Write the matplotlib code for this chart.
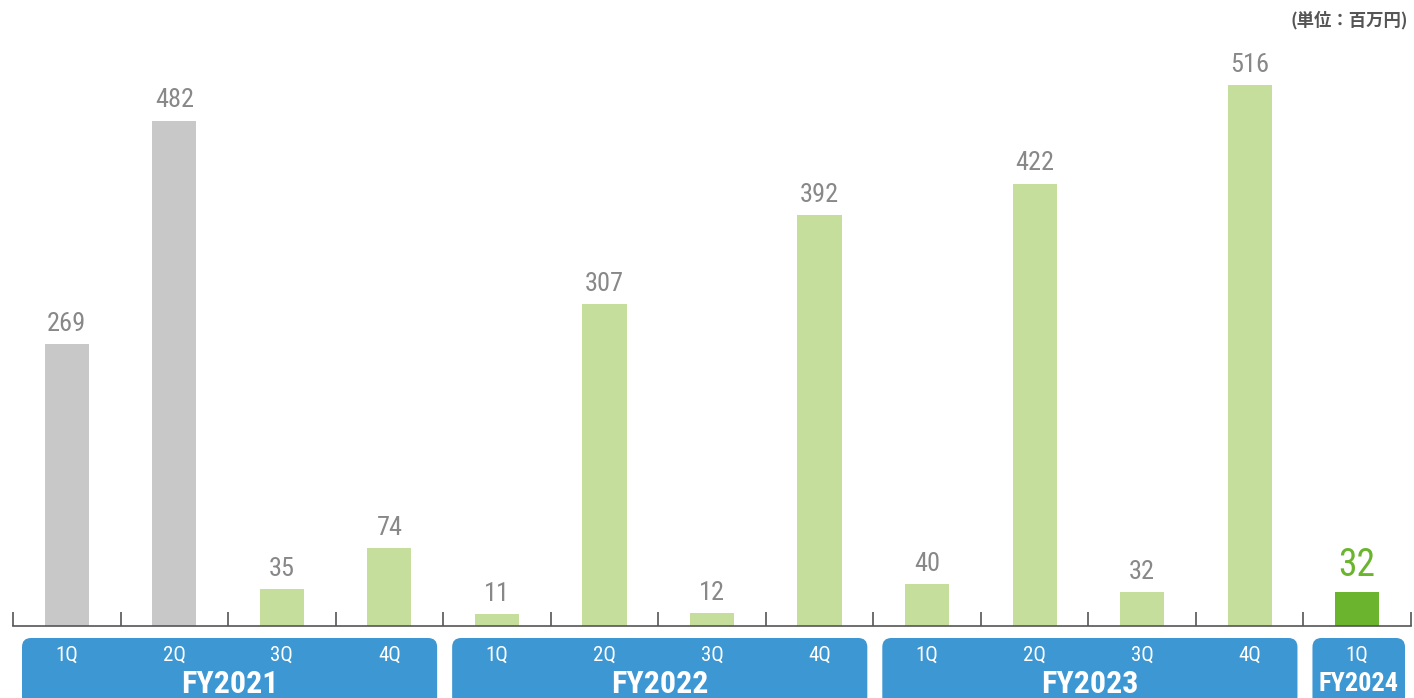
import matplotlib
matplotlib.use('Agg')
import matplotlib.pyplot as plt
from matplotlib import font_manager
from matplotlib.patches import FancyBboxPatch
from matplotlib.transforms import IdentityTransform

# データ
quarters = ['1Q', '2Q', '3Q', '4Q', '1Q', '2Q', '3Q', '4Q', '1Q', '2Q', '3Q', '4Q', '1Q']
values = [269, 482, 35, 74, 11, 307, 12, 392, 40, 422, 32, 516, 32]
years = ['FY2021', 'FY2022', 'FY2023', 'FY2024']
year_sizes = [4, 4, 4, 1]
bar_colors = ['#c8c8c8'] * 2 + ['#c5de9c'] * 10 + ['#6ab42e']

# 細めのフォントを探す
names = {f.name for f in font_manager.fontManager.ttflist}
num_font = 'Roboto'
for cand in ['Roboto Condensed', 'Liberation Sans Narrow', 'Roboto']:
    if cand in names:
        num_font = cand
        break

fig = plt.figure(figsize=(14.14, 6.98), dpi=100)
ax = fig.add_axes([13 / 1414, 72 / 698, 1398 / 1414, 587 / 698])

x = list(range(len(values)))
ax.bar(x, values, width=0.41, color=bar_colors, zorder=2)
ax.set_xlim(-0.5, len(values) - 0.5)
ax.set_ylim(0, 560)

for s in ['top', 'right', 'left']:
    ax.spines[s].set_visible(False)
ax.spines['bottom'].set_color('#555555')
ax.spines['bottom'].set_linewidth(1.2)
ax.set_yticks([])
ax.set_xticks([i - 0.5 for i in range(len(values) + 1)])
ax.set_xticklabels([])
ax.tick_params(axis='x', direction='in', length=10, width=1.2, color='#555555')

# 値ラベル
for i, v in enumerate(values):
    if i == len(values) - 1:
        ax.text(i, v + 8, str(v), ha='center', va='bottom', fontsize=27,
                color='#6ab42e', family=num_font)
    else:
        ax.text(i, v + 8, str(v), ha='center', va='bottom', fontsize=19,
                color='#888888', family=num_font)

fig.canvas.draw()

# 年度ボックス
start = 0
for yr, n in zip(years, year_sizes):
    x0 = ax.transData.transform((start - 0.5, 0))[0]
    x1 = ax.transData.transform((start + n - 0.5, 0))[0]
    left = x0 + 9
    right = x1 - 6
    box = FancyBboxPatch((left, -20), right - left, 80,
                         boxstyle='round,pad=0,rounding_size=9',
                         transform=IdentityTransform(), facecolor='#3d97d3',
                         edgecolor='none')
    fig.add_artist(box)
    for k in range(n):
        xp = ax.transData.transform((start + k, 0))[0]
        fig.text(xp / 1414, 43 / 698, quarters[start + k], ha='center', va='center',
                 fontsize=15, color='white', family=num_font)
    fs = 23 if n > 1 else 19
    fig.text((left + right) / 2 / 1414, 14 / 698, yr, ha='center', va='center',
             fontsize=fs, color='white', family=num_font, fontweight='bold')
    start += n

fig.text(1408 / 1414, 678 / 698, '(単位：百万円)', ha='right', va='center',
         fontsize=12.5, color='#555555', fontweight='bold',
         family=['Noto Sans CJK JP', 'DejaVu Sans'])

fig.savefig('out.png', dpi=100)
